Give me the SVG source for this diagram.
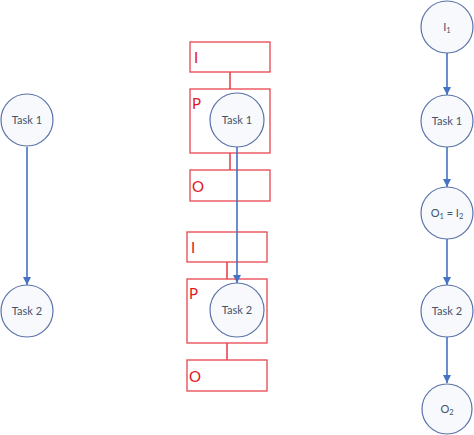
<svg xmlns="http://www.w3.org/2000/svg" width="474" height="435" viewBox="0 0 474 435">
<defs>
<marker id="arr" markerWidth="10" markerHeight="10" refX="9" refY="5" orient="auto" markerUnits="userSpaceOnUse">
<path d="M1,1 L9,5 L1,9 Z" fill="#4472C4"/>
</marker>
<style>
.task{fill:#F7F9FC;stroke:#5A73A8;stroke-width:1.2}
.tl{font-family:Lato,"Open Sans","Liberation Sans",sans-serif;font-size:11px;fill:#44546A;text-anchor:middle}
.box{fill:#FFFFFF;stroke:#E8454F;stroke-width:1.3}
.bl{font-family:Lato,"Open Sans","Liberation Sans",sans-serif;font-size:15px;fill:#E0161E}
.link{stroke:#E8454F;stroke-width:1.6;fill:none}
.edge{stroke:#4472C4;stroke-width:1.6;fill:none;marker-end:url(#arr)}
.sub{font-size:7.5px}
</style>
</defs>
<rect width="474" height="435" fill="#FFFFFF"/>

<g id="box-I1"><rect class="box" x="190" y="42" width="80" height="30"/><text class="bl" x="194" y="63">I</text></g>
<g id="box-P1"><rect class="box" x="190" y="89" width="80" height="64"/><text class="bl" x="192" y="109">P</text></g>
<g id="box-O1"><rect class="box" x="190" y="170" width="80" height="31"/><text class="bl" x="192" y="192">O</text></g>
<g id="box-I2"><rect class="box" x="187" y="232" width="80" height="30"/><text class="bl" x="191" y="253">I</text></g>
<g id="box-P2"><rect class="box" x="187" y="279" width="80" height="64"/><text class="bl" x="189" y="299">P</text></g>
<g id="box-O2"><rect class="box" x="187" y="360" width="80" height="31"/><text class="bl" x="189" y="382">O</text></g>

<g id="connectors">
<line class="link" x1="230" y1="72" x2="230" y2="89"/>
<line class="link" x1="230" y1="153" x2="230" y2="170"/>
<line class="link" x1="227" y1="262" x2="227" y2="279"/>
<line class="link" x1="227" y1="343" x2="227" y2="360"/>
<line class="edge" x1="27" y1="147" x2="27" y2="285"/>
<line class="edge" x1="237" y1="147" x2="237" y2="283"/>
<line class="edge" x1="447" y1="53" x2="447" y2="95"/>
<line class="edge" x1="447" y1="147" x2="447" y2="187"/>
<line class="edge" x1="447" y1="239" x2="447" y2="285"/>
<line class="edge" x1="447" y1="337" x2="447" y2="383"/>
</g>

<g id="left-task1"><circle class="task" cx="27" cy="120" r="26"/><text class="tl" x="27" y="124">Task 1</text></g>
<g id="left-task2"><circle class="task" cx="27" cy="311" r="26"/><text class="tl" x="27" y="315">Task 2</text></g>

<g id="mid-task1"><circle class="task" cx="237" cy="120" r="27"/><text class="tl" x="237" y="124">Task 1</text></g>
<g id="mid-task2"><circle class="task" cx="237" cy="310" r="27"/><text class="tl" x="237" y="314">Task 2</text></g>

<g id="right-I1"><circle class="task" cx="447" cy="27" r="26"/><text class="tl" x="447" y="31">I<tspan class="sub" dy="2">1</tspan></text></g>
<g id="right-task1"><circle class="task" cx="447" cy="121" r="26"/><text class="tl" x="447" y="125">Task 1</text></g>
<g id="right-O1I2"><circle class="task" cx="447" cy="213" r="26"/><text class="tl" x="447" y="217">O<tspan class="sub" dy="2">1</tspan><tspan dy="-2"> = I</tspan><tspan class="sub" dy="2">2</tspan></text></g>
<g id="right-task2"><circle class="task" cx="447" cy="311" r="26"/><text class="tl" x="447" y="315">Task 2</text></g>
<g id="right-O2"><circle class="task" cx="447" cy="409" r="25"/><text class="tl" x="447" y="413">O<tspan class="sub" dy="2">2</tspan></text></g>
</svg>
